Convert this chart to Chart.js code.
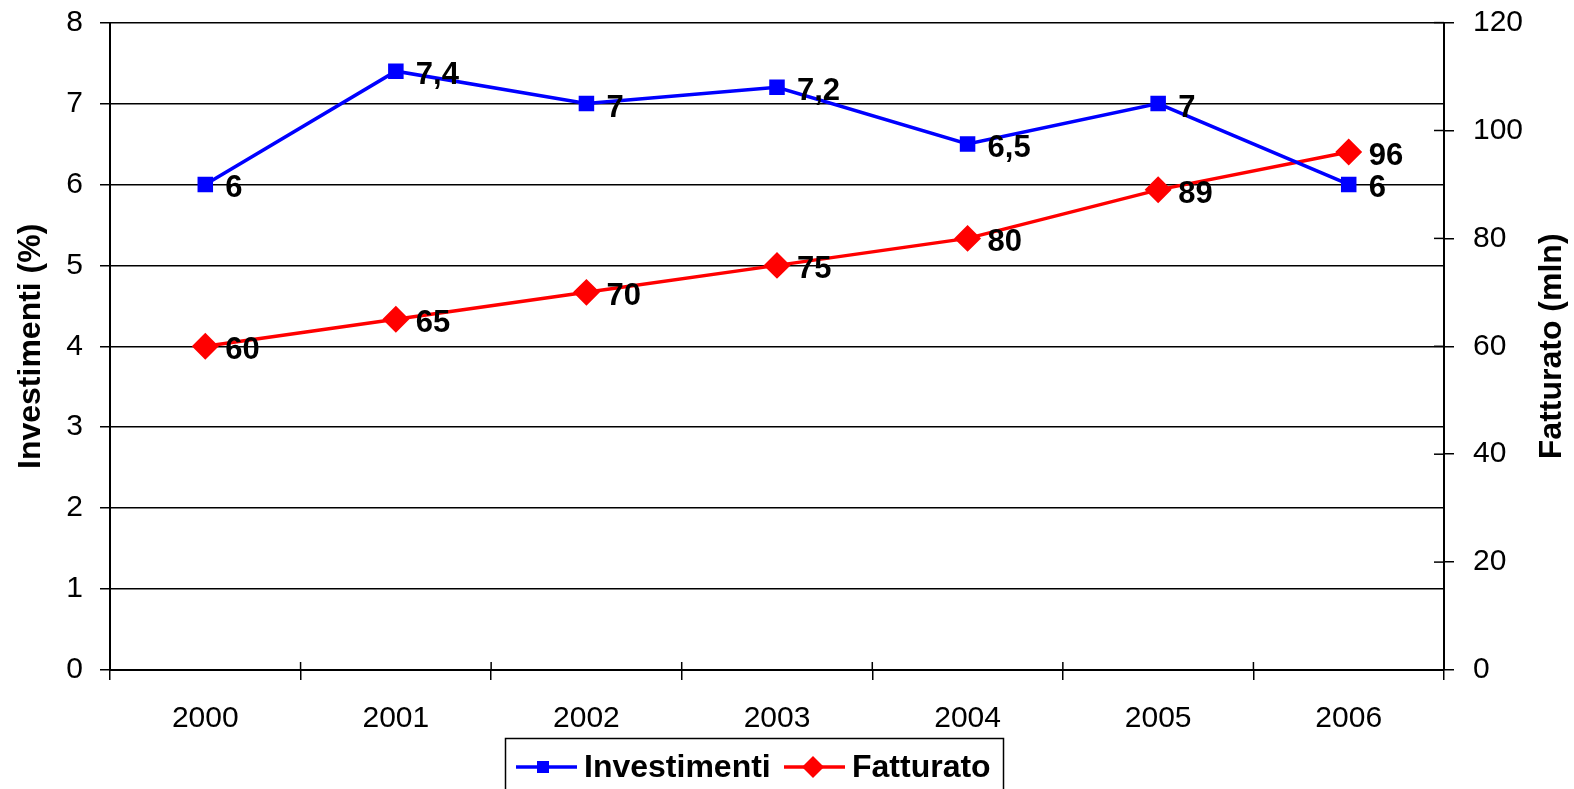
<!DOCTYPE html>
<html>
<head>
<meta charset="utf-8">
<script src="https://cdn.jsdelivr.net/npm/chart.js@4.4.1/dist/chart.umd.min.js"></script>
<style>
  html, body { margin: 0; padding: 0; background: #fff; }
  #wrap { width: 1574px; height: 789px; }
</style>
</head>
<body>
<div id="wrap"><canvas id="canvas"></canvas></div>
<script>
const years = ["2000", "2001", "2002", "2003", "2004", "2005", "2006"];
const investimenti = [6, 7.4, 7, 7.2, 6.5, 7, 6];
const fatturato = [60, 65, 70, 75, 80, 89, 96];
const leftTitle = "Investimenti (%)";
const rightTitle = "Fatturato (mln)";

const FONT = "'Liberation Sans', Arial, sans-serif";

// labels, inner tick marks, axis titles and the boxed legend
const extras = {
  id: "extras",
  afterDraw(chart) {
    const ctx = chart.ctx;
    const x = chart.scales.x;
    const yR = chart.scales.yR;
    const area = chart.chartArea;

    ctx.save();
    ctx.strokeStyle = "#000";
    ctx.lineWidth = 1.5;
    // x ticks reaching into the plot
    for (let i = 0; i <= years.length; i++) {
      const px = x.left + (i * (x.right - x.left)) / years.length;
      ctx.beginPath();
      ctx.moveTo(px, area.bottom - 8);
      ctx.lineTo(px, area.bottom);
      ctx.stroke();
    }
    // right axis ticks reaching into the plot
    yR.ticks.forEach((t) => {
      const py = yR.getPixelForValue(t.value);
      ctx.beginPath();
      ctx.moveTo(area.right - 10, py);
      ctx.lineTo(area.right, py);
      ctx.stroke();
    });

    // data labels
    ctx.fillStyle = "#000";
    ctx.font = "bold 31px " + FONT;
    ctx.textAlign = "left";
    ctx.textBaseline = "alphabetic";
    chart.data.datasets.forEach((ds, di) => {
      const meta = chart.getDatasetMeta(di);
      meta.data.forEach((pt, i) => {
        const txt = String(ds.data[i]).replace(".", ",");
        ctx.fillText(txt, pt.x + 20, pt.y + 13);
      });
    });

    // axis titles
    const midY = (area.top + area.bottom) / 2;
    ctx.font = "bold 32px " + FONT;
    ctx.textAlign = "center";
    ctx.save();
    ctx.translate(40, midY);
    ctx.rotate(-Math.PI / 2);
    ctx.fillText(leftTitle, 0, 0);
    ctx.restore();
    ctx.save();
    ctx.translate(1561, midY);
    ctx.rotate(-Math.PI / 2);
    ctx.fillText(rightTitle, 0, 0);
    ctx.restore();

    // legend
    ctx.lineWidth = 1.5;
    ctx.strokeRect(505.5, 738.5, 498, 60);
    const ly = 767;
    ctx.font = "bold 32px " + FONT;
    ctx.textAlign = "left";
    ctx.textBaseline = "middle";
    ctx.lineWidth = 3.5;
    // Investimenti
    ctx.strokeStyle = "#0000ff";
    ctx.beginPath();
    ctx.moveTo(516, ly);
    ctx.lineTo(577, ly);
    ctx.stroke();
    ctx.fillStyle = "#0000ff";
    ctx.fillRect(543 - 6, ly - 6, 12, 12);
    ctx.fillStyle = "#000";
    ctx.fillText("Investimenti", 584, ly + 1);
    // Fatturato
    ctx.strokeStyle = "#ff0000";
    ctx.beginPath();
    ctx.moveTo(784, ly);
    ctx.lineTo(845, ly);
    ctx.stroke();
    ctx.fillStyle = "#ff0000";
    ctx.beginPath();
    ctx.moveTo(813, ly - 11);
    ctx.lineTo(824, ly);
    ctx.lineTo(813, ly + 11);
    ctx.lineTo(802, ly);
    ctx.closePath();
    ctx.fill();
    ctx.fillStyle = "#000";
    ctx.fillText("Fatturato", 852, ly + 1);
    ctx.restore();
  },
};

new Chart("canvas", {
  type: "line",
  data: {
    labels: years,
    datasets: [
      {
        label: "Investimenti",
        data: investimenti,
        yAxisID: "y",
        borderColor: "#0000ff",
        backgroundColor: "#0000ff",
        borderWidth: 3.5,
        pointStyle: "rect",
        pointRadius: 8.5,
        pointHoverRadius: 8.5,
        tension: 0,
      },
      {
        label: "Fatturato",
        data: fatturato,
        yAxisID: "yR",
        borderColor: "#ff0000",
        backgroundColor: "#ff0000",
        borderWidth: 3.5,
        pointStyle: "rectRot",
        pointRadius: 11,
        pointHoverRadius: 11,
        tension: 0,
      },
    ],
  },
  options: {
    responsive: true,
    maintainAspectRatio: false,
    animation: false,
    events: [],
    layout: { padding: { top: 22, bottom: 52, left: 0, right: 0 } },
    plugins: {
      legend: { display: false },
      tooltip: { enabled: false },
    },
    scales: {
      x: {
        offset: true,
        grid: {
          offset: true,
          drawOnChartArea: false,
          color: "#000",
          lineWidth: 1.5,
          tickLength: 10,
        },
        border: { color: "#000", width: 2 },
        ticks: {
          color: "#000",
          font: { family: FONT, size: 30 },
          padding: 21,
          maxRotation: 0,
        },
        afterFit(scale) {
          scale.height = 67;
        },
      },
      y: {
        position: "left",
        min: 0,
        max: 8,
        ticks: {
          stepSize: 1,
          color: "#000",
          font: { family: FONT, size: 30, lineHeight: 0.36 },
          padding: 17,
        },
        grid: { color: "#000", lineWidth: 1.5, tickLength: 10, tickWidth: 1.5 },
        border: { color: "#000", width: 2 },
        afterFit(scale) {
          scale.width = 110;
        },
      },
      yR: {
        position: "right",
        min: 0,
        max: 120,
        ticks: {
          stepSize: 20,
          color: "#000",
          font: { family: FONT, size: 30, lineHeight: 0.24 },
          padding: 19,
        },
        grid: { drawOnChartArea: false, color: "#000", lineWidth: 1.5, tickLength: 10 },
        border: { color: "#000", width: 2 },
        afterFit(scale) {
          scale.width = 130;
        },
      },
    },
  },
  plugins: [extras],
});
</script>
</body>
</html>
